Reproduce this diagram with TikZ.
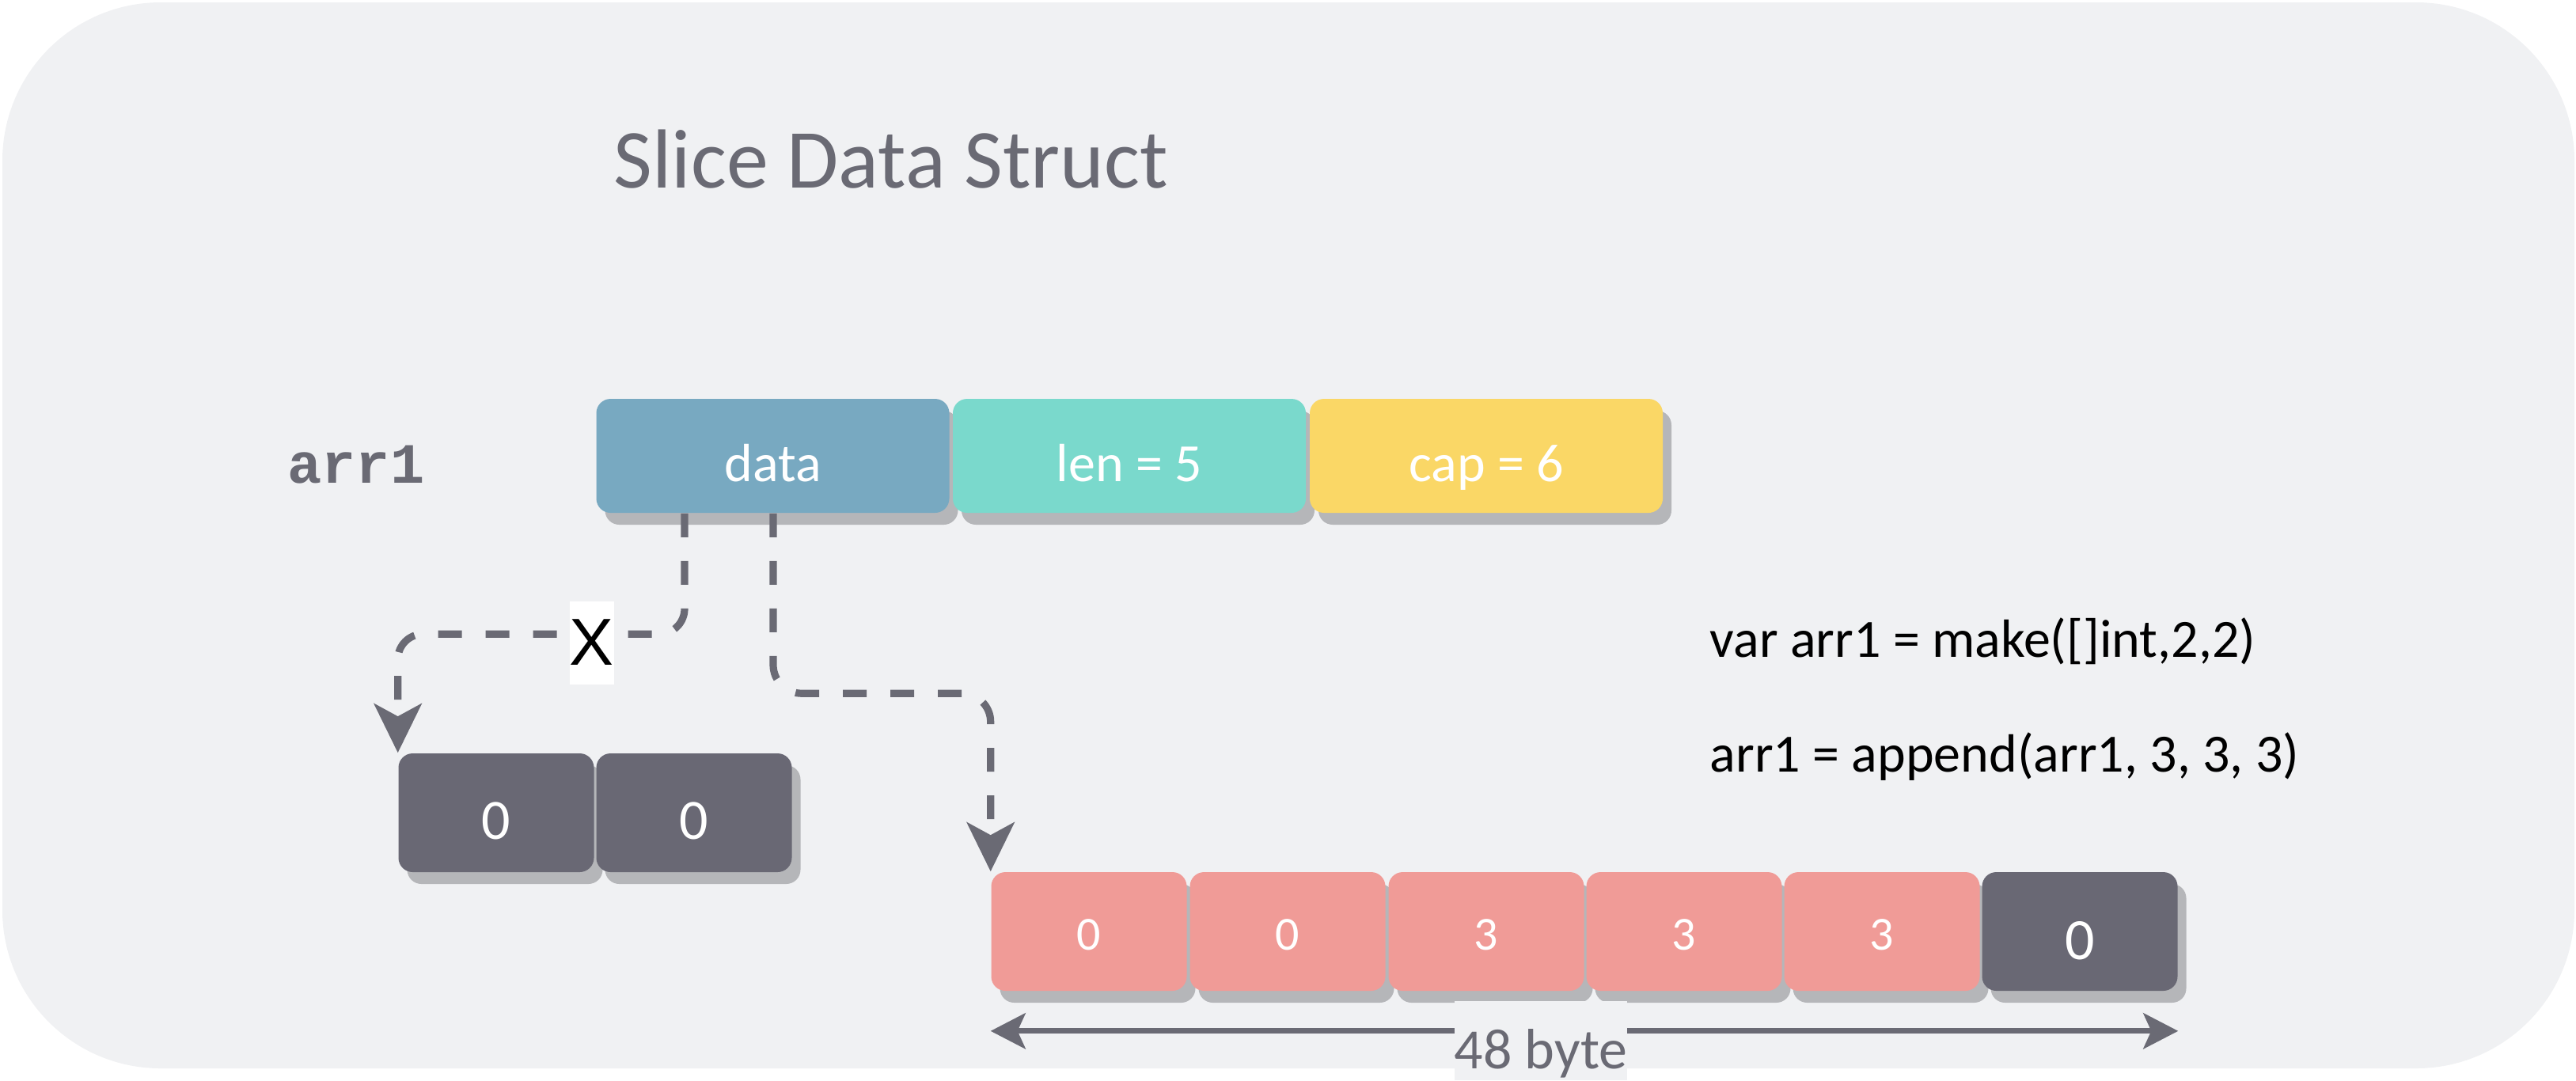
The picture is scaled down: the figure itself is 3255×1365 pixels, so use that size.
\documentclass[tikz,border=0pt]{standalone}
\usepackage{fontspec}
\setmainfont{Carlito}
\newfontfamily\monofont{Liberation Mono}
\newfontfamily\xfont{Liberation Sans}
\usetikzlibrary{arrows.meta,shadows,calc}
\definecolor{bgc}{HTML}{F0F1F3}
\definecolor{greyc}{HTML}{6A6A74}
\definecolor{darkc}{HTML}{696874}
\definecolor{pinkc}{HTML}{F09B97}
\definecolor{bluec}{HTML}{78A9C1}
\definecolor{tealc}{HTML}{7AD9CC}
\definecolor{yellowc}{HTML}{FAD766}
\definecolor{shadowc}{HTML}{B5B6B9}
\begin{document}
\begin{tikzpicture}[x=0.25pt,y=-0.25pt,
  cell/.style={rectangle, rounded corners=4.5pt, text=white, inner sep=0pt,
    text depth=0pt,
    drop shadow={shadow xshift=2.75pt, shadow yshift=-3.75pt, fill=shadowc, opacity=1}},
  bigcell/.style={cell, minimum width=111.5pt, minimum height=36pt, text height=16pt, font=\fontsize{17}{20}\selectfont},
  smallcell/.style={cell, minimum width=61.75pt, minimum height=37.5pt},
  olddigit/.style={text height=16.5pt, font=\fontsize{18}{21}\selectfont},
  pinkdigit/.style={text height=11.75pt, font=\fontsize{15}{18}\selectfont},
  lastdigit/.style={text height=17.5pt, font=\fontsize{18.5}{22}\selectfont},
  conn/.style={draw=greyc, line width=2.3pt, dash pattern=on 7.5pt off 7.5pt,
    -{Stealth[length=15.5pt,width=15pt,inset=4pt]}},
  dimarrow/.style={draw=greyc, line width=1.75pt,
    {Stealth[length=11pt,width=11.25pt,inset=2.5pt]}-{Stealth[length=11pt,width=11.25pt,inset=2.5pt]}},
  codetext/.style={anchor=base west, inner sep=0pt, text=black, font=\fontsize{17}{20}\selectfont},
]
\useasboundingbox (0,0) rectangle (3255,1365);
\fill[bgc, rounded corners=50pt] (3,3) rectangle (3253,1350);

% title
\node[anchor=base, inner sep=0pt, text=greyc, font=\fontsize{26.5}{30}\selectfont] (title) at (1126,237) {Slice Data Struct};

% arr1 label
\node[anchor=base, inner sep=0pt, text=greyc, font=\monofont\bfseries\fontsize{18}{21}\selectfont] (lbl) at (450,610) {arr1};

% header cells
\node[bigcell, fill=bluec] (data) at (976.5,576) {data};
\node[bigcell, fill=tealc] (len) at (1427,576) {len = 5};
\node[bigcell, fill=yellowc] (cap) at (1878,576) {cap = 6};

% old array
\node[smallcell, olddigit, fill=darkc] (s1) at (627,1027) {0};
\node[smallcell, olddigit, fill=darkc] (s2) at (877,1027) {0};

% new array
\node[smallcell, pinkdigit, fill=pinkc] (b1) at (1376,1177) {0};
\node[smallcell, pinkdigit, fill=pinkc] (b2) at (1627,1177) {0};
\node[smallcell, pinkdigit, fill=pinkc] (b3) at (1878,1177) {3};
\node[smallcell, pinkdigit, fill=pinkc] (b4) at (2128,1177) {3};
\node[smallcell, pinkdigit, fill=pinkc] (b5) at (2378,1177) {3};
\node[smallcell, lastdigit, fill=darkc] (b6) at (2628,1177) {0};

% pointers
\draw[conn, rounded corners=8pt] ($(data.south)+(-111.5,0)$) |- ($(s1.north west)+(0,-150)$) -- (s1.north west);
\node[fill=white, text=black, inner sep=0pt, minimum width=13.5pt, minimum height=26.25pt,
  font=\xfont\fontsize{21}{24}\selectfont] (cross) at (748,812) {X};
\draw[conn, rounded corners=9pt] ($(data.south)+(0.5,0)$) |- ($(b1.north west)+(0,-225)$) -- (b1.north west);

% size arrow
\draw[dimarrow] ($(b1.south west)+(0,50)$) coordinate (dimL) -- ($(b6.south east)+(0,50)$) coordinate (dimR);
\node[fill=bgc, text=greyc, inner sep=0pt, minimum width=53.75pt, text height=21.25pt, text depth=3.75pt,
  font=\fontsize{18}{21}\selectfont] (bytes) at (1947,1315) {48 byte};

% code
\node[codetext] (code1) at (2160,830) {var arr1 = make([]int,2,2)};
\node[codetext] (code2) at (2160,975) {arr1 = append(arr1, 3, 3, 3)};
\end{tikzpicture}
\end{document}
